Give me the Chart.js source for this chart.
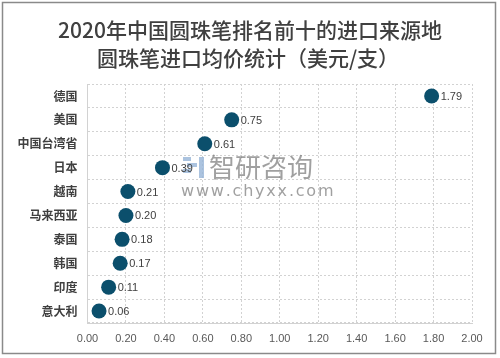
<!DOCTYPE html>
<html>
<head>
<meta charset="utf-8">
<script src="https://cdn.jsdelivr.net/npm/chart.js@4.4.0/dist/chart.umd.min.js"></script>
<style>
  html, body { margin: 0; padding: 0; background: #fff; }
  #wrap { width: 500px; height: 358px; }
</style>
</head>
<body>
<div id="wrap"><canvas id="c" width="500" height="358"></canvas></div>
<script>
// data
const countries = ['德国', '美国', '中国台湾省', '日本', '越南', '马来西亚', '泰国', '韩国', '印度', '意大利'];
const avgPrice = [1.79, 0.75, 0.61, 0.39, 0.21, 0.20, 0.18, 0.17, 0.11, 0.06];
const titleLines = ['2020年中国圆珠笔排名前十的进口来源地', '圆珠笔进口均价统计（美元/支）'];
const xMin = 0, xMax = 2, xStep = 0.2;

const cjk = '"Noto Sans CJK SC", "Noto Sans", sans-serif';
const dotColor = '#0b4f6c';
const gridColor = '#d2d2d2';

// title, frame and watermark
const decor = {
  id: 'decor',
  beforeDraw(chart) {
    const ctx = chart.ctx;
    ctx.save();
    ctx.fillStyle = '#fff';
    ctx.fillRect(0, 0, chart.width, chart.height);
    ctx.strokeStyle = '#8a8a8a';
    ctx.lineWidth = 1.5;
    ctx.strokeRect(2.5, 2.5, 493, 351);
    ctx.fillStyle = '#404040';
    ctx.font = '500 21px ' + cjk;
    ctx.textAlign = 'center';
    ctx.textBaseline = 'middle';
    ctx.fillText(titleLines[0], 250, 30);
    ctx.fillText(titleLines[1], 248, 58);
    ctx.restore();
  },
  afterDatasetsDraw(chart) {
    const ctx = chart.ctx;
    const meta = chart.getDatasetMeta(0);
    ctx.save();
    // watermark
    ctx.fillStyle = 'rgba(150,180,215,0.8)';
    ctx.fillRect(183, 157, 8, 4);
    ctx.fillRect(187, 163, 10, 4);
    ctx.fillRect(183, 169, 8, 4);
    ctx.fillRect(199, 157, 5, 21);
    ctx.fillStyle = 'rgba(120,120,120,0.7)';
    ctx.font = '26px ' + cjk;
    ctx.textBaseline = 'middle';
    ctx.textAlign = 'left';
    ctx.fillText('智研咨询', 209, 167);
    ctx.font = '16px "DejaVu Sans", sans-serif';
    let wx = 181;
    for (const ch of 'www.chyxx.com') {
      ctx.fillText(ch, wx, 192);
      wx += ctx.measureText(ch).width + 1.8;
    }
    // value labels
    ctx.fillStyle = '#404040';
    ctx.font = '11px "Liberation Sans", "DejaVu Sans", sans-serif';
    meta.data.forEach((pt, i) => {
      ctx.fillText(avgPrice[i].toFixed(2), pt.x + 9, pt.y + 1);
    });
    ctx.restore();
  }
};

new Chart(document.getElementById('c'), {
  type: 'line',
  data: {
    labels: countries,
    datasets: [{
      data: avgPrice,
      showLine: false,
      pointRadius: 7.5,
      pointHoverRadius: 7.5,
      pointBackgroundColor: dotColor,
      pointBorderColor: dotColor,
      pointBorderWidth: 0
    }]
  },
  plugins: [decor],
  options: {
    indexAxis: 'y',
    responsive: false,
    animation: false,
    events: [],
    layout: { padding: { left: 0, top: 84, right: 28, bottom: 0 } },
    plugins: { legend: { display: false }, tooltip: { enabled: false }, title: { display: false } },
    scales: {
      x: {
        type: 'linear',
        min: xMin,
        max: xMax,
        ticks: {
          stepSize: xStep,
          padding: 9,
          color: '#595959',
          font: { size: 11, family: '"Liberation Sans", "DejaVu Sans", sans-serif' },
          callback: v => v.toFixed(2)
        },
        grid: { color: gridColor, drawTicks: false },
        border: { display: true, color: gridColor, dash: [2, 2] },
        afterFit(s) { s.height = 35; }
      },
      y: {
        type: 'category',
        offset: true,
        ticks: {
          padding: 10,
          color: '#404040',
          font: { size: 12, family: cjk, weight: 'bold' }
        },
        grid: { offset: true, color: gridColor, drawTicks: false },
        border: { display: true, color: gridColor, dash: [2, 2] },
        afterFit(s) { s.width = 87.5; }
      }
    }
  }
});
</script>
</body>
</html>
